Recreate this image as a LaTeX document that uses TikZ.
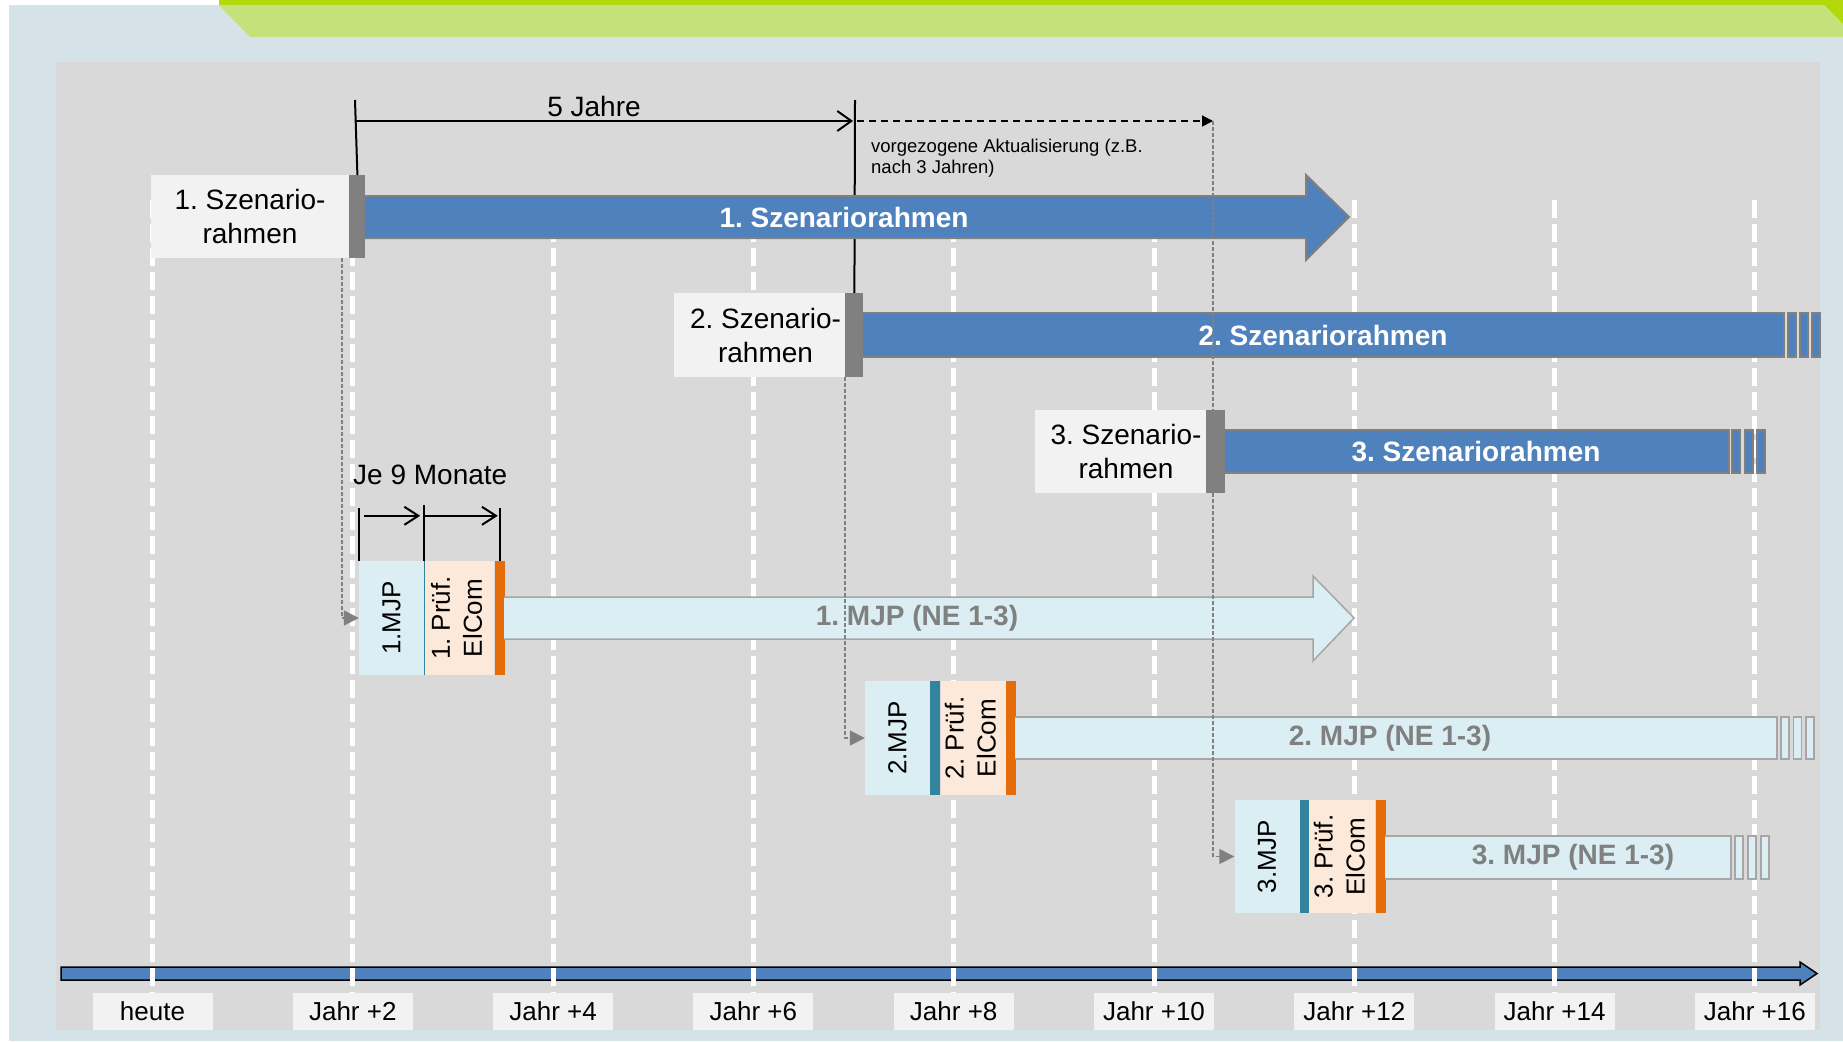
\documentclass[tikz,border=0pt]{standalone}
\usepackage{fontspec}
\setmainfont{Liberation Sans}
\usepackage{xcolor}
\definecolor{planbg}{RGB}{213,227,232}
\definecolor{planpanel}{RGB}{217,217,217}
\definecolor{plangreen}{RGB}{179,216,12}
\definecolor{planlime}{RGB}{196,225,122}
\definecolor{planblue}{RGB}{79,129,189}
\definecolor{planlight}{RGB}{219,238,243}
\definecolor{planpeach}{RGB}{253,233,217}
\definecolor{planorange}{RGB}{228,108,10}
\definecolor{planteal}{RGB}{49,132,155}
\definecolor{plangray}{RGB}{128,128,128}
\definecolor{planedge}{RGB}{166,166,166}
\definecolor{planbox}{RGB}{242,242,242}
\usepackage{tikz}
\usetikzlibrary{positioning,arrows.meta}

\begin{document}
\frenchspacing
\begin{tikzpicture}[x=1pt,y=-1pt,
  font=\fontsize{28}{34}\selectfont,
  szbox/.style={fill=planbox,minimum width=171pt,minimum height=84pt,inner sep=0pt,align=center},
  szmark/.style={fill=plangray,minimum width=18pt,minimum height=84pt,inner sep=0pt},
  szbar/.style={fill=planblue,draw=plangray,line width=2pt},
  szlabel/.style={text=white,font=\fontsize{28}{34}\selectfont\bfseries},
  mjpcell/.style={fill=planlight,minimum width=65pt,minimum height=114pt,inner sep=0pt,font=\fontsize{26}{32}\selectfont},
  pruefcell/.style={mjpcell,fill=planpeach},
  colstrip/.style={minimum width=10pt,minimum height=114pt,inner sep=0pt},
  mjpbar/.style={fill=planlight,draw=planedge,line width=1.5pt},
  mjplabel/.style={text=plangray,font=\fontsize{28}{34}\selectfont\bfseries},
  dimline/.style={black,line width=2pt},
  link/.style={plangray,line width=1.5pt,dash pattern=on 4pt off 2pt,-{Triangle[length=15pt,width=15pt]}},
  gridline/.style={white,line width=5pt,dash pattern=on 18pt off 6pt},
  yearbox/.style={fill=planbox,minimum width=120pt,minimum height=37pt,inner sep=0pt,font=\fontsize{26}{30}\selectfont}]
\useasboundingbox (0,0) rectangle (1843,1041);
% background and title band
\fill[white] (0,0) rectangle (1843,1041);
\fill[planbg] (9,5) rectangle (1843,1041);
\fill[plangreen] (219,0) rectangle (1843,5);
\fill[plangreen] (1823,4) -- (1843,4) -- (1843,24) -- cycle;
\fill[planlime] (219,5) -- (1823,5) -- (1843,24) -- (1843,37) -- (250,37) -- cycle;
\fill[planpanel] (56,62) rectangle (1820,1030);

% time axis and year grid
\draw[fill=planblue,line width=1.5pt] (61,967) -- (1800,967) -- (1800,962) -- (1817,973.5) -- (1800,985) -- (1800,980) -- (61,980) -- cycle;
\foreach \k in {0,...,8}
  \draw[gridline] ({152.5+200.3*\k},200) -- ++(0,830);

% Szenariorahmen boxes
\node[szbox,minimum width=198pt,minimum height=83pt] (sz1) at (250,216.5) {1. Szenario-\\rahmen};
\node[szmark,minimum width=16pt,minimum height=83pt,right=0pt of sz1] (sz1m) {};
\node[szbox] (sz2) at (759.5,335) {\hspace*{12pt}2. Szenario-\\\hspace*{12pt}rahmen};
\node[szmark,right=0pt of sz2] (sz2m) {};
\node[szbox,minimum height=83pt] (sz3) at (1120,451.5) {\hspace*{12pt}3. Szenario-\\\hspace*{12pt}rahmen};
\node[szmark,minimum width=19pt,minimum height=83pt,right=0pt of sz3] (sz3m) {};

% MJP boxes
\node[mjpcell] (mjp1) at (391.5,618) {\rotatebox{90}{1.MJP}};
\node[pruefcell,minimum width=70pt,right=0pt of mjp1] (pr1) {\rotatebox{90}{\begin{tabular}{@{}c@{}}1. Prüf.\\ElCom\end{tabular}}};
\node[colstrip,fill=planorange,right=0pt of pr1] (or1) {};
\draw[planteal,line width=1pt] (mjp1.north east) -- (mjp1.south east);
\node[mjpcell] (mjp2) at (897.5,738) {\rotatebox{90}{2.MJP}};
\node[colstrip,fill=planteal,right=0pt of mjp2] (te2) {};
\node[pruefcell,right=0pt of te2] (pr2) {\rotatebox{90}{\begin{tabular}{@{}c@{}}2. Prüf.\\ElCom\end{tabular}}};
\node[colstrip,fill=planorange,right=0pt of pr2] (or2) {};
\node[mjpcell,minimum height=113pt] (mjp3) at (1267,856.5) {\rotatebox{90}{3.MJP}};
\node[colstrip,minimum width=9pt,minimum height=113pt,fill=planteal,right=0pt of mjp3] (te3) {};
\node[pruefcell,minimum width=66pt,minimum height=113pt,right=0pt of te3] (pr3) {\rotatebox{90}{\begin{tabular}{@{}c@{}}3. Prüf.\\ElCom\end{tabular}}};
\node[colstrip,minimum height=113pt,fill=planorange,right=0pt of pr3] (or3) {};

% 5 Jahre
\coordinate (dimA) at (355,100);
\coordinate (dimB) at (855,100);
\coordinate (aktual) at (1213,121);
\draw[dimline] (dimA) -- (sz1m.north);
\draw[dimline] (dimB) -- (sz2m.north);
\draw[dimline,-{Straight Barb[length=14pt,width=20pt]}] (355,121) -- (853,121);
\node (five) at (594,106) {5 Jahre};
\draw[black,line width=1.8pt,dash pattern=on 7pt off 5pt,-{Triangle[length=11pt,width=11pt]}] (857,121) -- (aktual);
\node[anchor=base west,inner sep=0pt,align=left,font=\fontsize{18.5}{21}\selectfont] (note) at (871,173) {vorgezogene Aktualisierung (z.B.\\nach 3 Jahren)};

% scenario bars
\draw[szbar] (365,196) -- (1306,196) -- (1306,175) -- (1349,217) -- (1306,260) -- (1306,238) -- (365,238);
\draw[szbar] (863,313) -- (1784,313) -- (1784,357) -- (863,357);
\foreach \p in {1788,1800,1812}
  \draw[szbar] (\p,313) rectangle ++(8,44);
\draw[szbar] (1224.5,430) -- (1729,430) -- (1729,473) -- (1224.5,473);
\foreach \p in {1732,1744.5,1757}
  \draw[szbar] (\p,430) rectangle ++(8,43);
\node[szlabel] (sz1lbl) at (844,217) {1. Szenariorahmen};
\node[szlabel] (sz2lbl) at (1323,335) {2. Szenariorahmen};
\node[szlabel] (sz3lbl) at (1476,452) {3. Szenariorahmen};

% MJP bars
\draw[mjpbar] (504,597) -- (1313,597) -- (1313,576) -- (1354,618) -- (1313,661) -- (1313,639) -- (504,639);
\draw[mjpbar] (1015,717) -- (1777,717) -- (1777,759) -- (1015,759);
\foreach \p in {1781,1793.5,1806}
  \draw[mjpbar] (\p,717) rectangle ++(8,42);
\draw[mjpbar] (1384.5,836) -- (1731,836) -- (1731,879) -- (1384.5,879);
\foreach \p in {1735,1748,1761}
  \draw[mjpbar] (\p,836) rectangle ++(8,43);
\node[mjplabel] (mjp1lbl) at (917,618) {1. MJP (NE 1-3)};
\node[mjplabel] (mjp2lbl) at (1390,738) {2. MJP (NE 1-3)};
\node[mjplabel] (mjp3lbl) at (1573,857) {3. MJP (NE 1-3)};

% Je 9 Monate
\node[anchor=west,inner sep=0pt] (nine) at (353,475) {Je 9 Monate};
\draw[dimline] (mjp1.north west) -- ++(0,-53);
\draw[dimline] (mjp1.north east) -- ++(0,-56);
\draw[dimline] (or1.north) -- ++(0,-53);
\draw[dimline,-{Straight Barb[length=14pt,width=18pt]}] ([xshift=5pt,yshift=45pt]mjp1.north west) -- ([xshift=-4pt,yshift=45pt]mjp1.north east);
\draw[dimline,-{Straight Barb[length=14pt,width=18pt]}] ([xshift=1pt,yshift=45pt]mjp1.north east) -- ([xshift=-2pt,yshift=45pt]or1.north);

% links scenario -> MJP
\draw[link] ([xshift=-7pt]sz1.south east) |- (mjp1.west);
\draw[link] (sz2m.south west) |- (mjp2.west);
\draw[link] (aktual) |- (mjp3.west);

% year labels
\foreach \t [count=\k from 0] in {heute,Jahr +2,Jahr +4,Jahr +6,Jahr +8,Jahr +10,Jahr +12,Jahr +14,Jahr +16}
  \node[yearbox] (year\k) at ({152.5+200.3*\k},1011.5) {\t};
\end{tikzpicture}
\end{document}
